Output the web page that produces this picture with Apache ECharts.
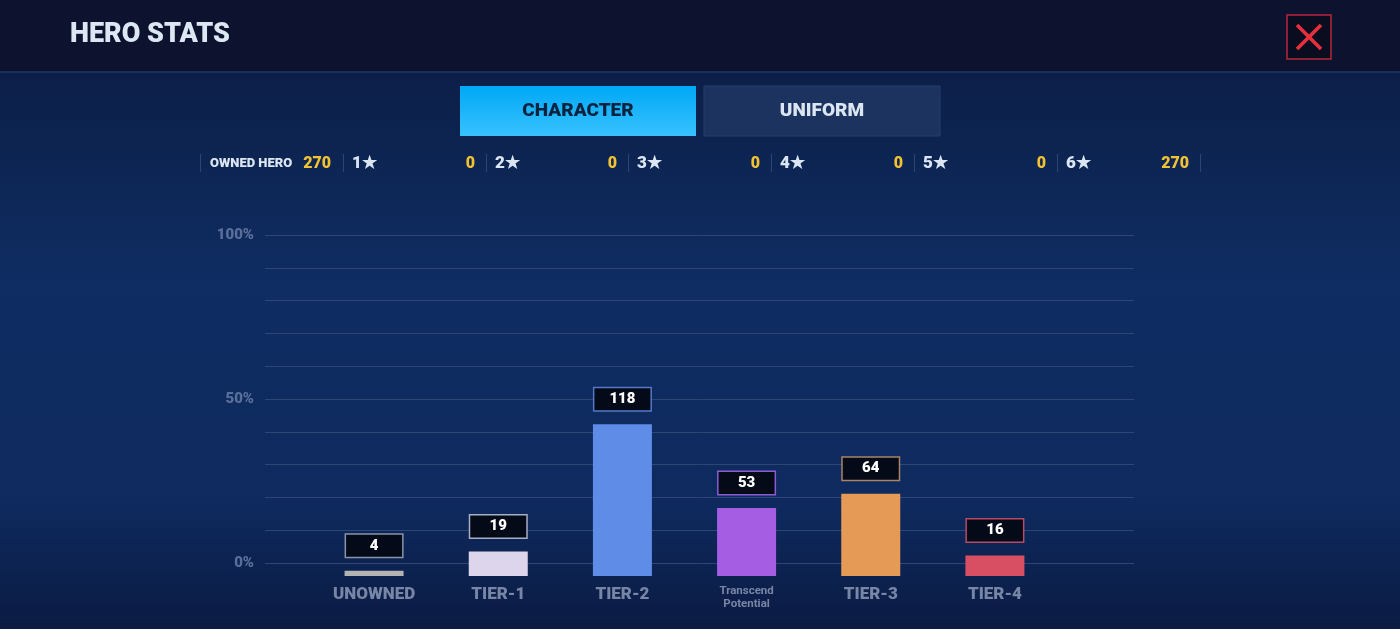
<!DOCTYPE html>
<html>
<head>
<meta charset="utf-8">
<title>Hero Stats</title>
<script src="https://cdn.jsdelivr.net/npm/echarts@6/dist/echarts.min.js"></script>
<style>
  html, body { margin: 0; padding: 0; background: #0d1a40; }
  #chart { width: 1400px; height: 629px; }
</style>
</head>
<body>
<div id="chart"></div>
<script>
// 图表数据
const categories = ["UNOWNED", "TIER-1", "TIER-2", "Transcend\nPotential", "TIER-3", "TIER-4"];
const heroCounts = [4, 19, 118, 53, 64, 16];
const totalOwned = 270;
const percentTicks = [0, 50, 100];
const starLabels = ["1★", "2★", "3★", "4★", "5★", "6★"];
const starCounts = [0, 0, 0, 0, 0, 270];

// 颜色
const barColors = ["#b3b3b3", "#dcd5ec", "#5f8ce6", "#a55de4", "#e59b55", "#d84f63"];
const boxColors = ["#8a93ad", "#a9adc4", "#5578c8", "#8c5cd0", "#a88468", "#b84a68"];
const FONT = 'Roboto, "Noto Sans", sans-serif';

const chart = echarts.init(document.getElementById("chart"));

// 顶部统计栏
const statGraphics = [];
const sepX = [200, 343, 486, 628, 771, 914, 1057, 1200];
sepX.forEach(x => {
  statGraphics.push({
    type: "rect",
    shape: { x: x, y: 154, width: 1, height: 18 },
    style: { fill: "#2f4470" }
  });
});
statGraphics.push({
  type: "text", x: 210, y: 164,
  style: { text: "OWNED HERO", fill: "#dce6f2", font: "900 13px " + FONT, verticalAlign: "middle" }
});
statGraphics.push({
  type: "text", x: 331, y: 164,
  style: { text: String(totalOwned), fill: "#f2c232", font: "900 16px " + FONT, align: "right", verticalAlign: "middle" }
});
starLabels.forEach((s, i) => {
  statGraphics.push({
    type: "text", x: sepX[i + 1] + 9, y: 164,
    style: { text: s, fill: "#dce6f2", font: "900 17px " + FONT, verticalAlign: "middle" }
  });
  statGraphics.push({
    type: "text", x: sepX[i + 2] - 11, y: 164,
    style: { text: String(starCounts[i]), fill: "#f2c232", font: "900 16px " + FONT, align: "right", verticalAlign: "middle" }
  });
});

const option = {
  animation: false,
  backgroundColor: {
    type: "linear", x: 0, y: 0, x2: 0, y2: 1,
    colorStops: [
      { offset: 0, color: "#0a1a3f" },
      { offset: 0.45, color: "#0f2d62" },
      { offset: 0.8, color: "#0e2a5e" },
      { offset: 1, color: "#0b1b43" }
    ]
  },
  textStyle: { fontFamily: FONT },
  graphic: [
    // 标题栏
    { type: "rect", shape: { x: 0, y: 0, width: 1400, height: 71 }, style: { fill: "#0d132e" } },
    { type: "rect", shape: { x: 0, y: 71, width: 1400, height: 2 }, style: { fill: "#1a2f5d" } },
    {
      type: "text", x: 70, y: 35,
      style: { text: "HERO STATS", fill: "#dbe7f2", font: "900 27px " + FONT, verticalAlign: "middle" }
    },
    // 关闭按钮
    {
      type: "rect", shape: { x: 1287, y: 15, width: 44, height: 44 },
      style: { fill: "#0a0d20", stroke: "#b8263a", lineWidth: 1.5 }
    },
    { type: "line", shape: { x1: 1297, y1: 25, x2: 1321, y2: 49 }, style: { stroke: "#e8303c", lineWidth: 3.5 } },
    { type: "line", shape: { x1: 1321, y1: 25, x2: 1297, y2: 49 }, style: { stroke: "#e8303c", lineWidth: 3.5 } },
    // 标签页
    {
      type: "rect", shape: { x: 460, y: 86, width: 236, height: 50 },
      style: {
        fill: {
          type: "linear", x: 0, y: 0, x2: 0, y2: 1,
          colorStops: [{ offset: 0, color: "#00a8f5" }, { offset: 1, color: "#38c2ff" }]
        }
      }
    },
    {
      type: "text", x: 578, y: 111,
      style: { text: "CHARACTER", fill: "#0c2340", font: "900 19px " + FONT, align: "center", verticalAlign: "middle" }
    },
    {
      type: "rect", shape: { x: 704, y: 86, width: 236, height: 50 },
      style: { fill: "#1c325f", stroke: "#263f6e", lineWidth: 1 }
    },
    {
      type: "text", x: 822, y: 111,
      style: { text: "UNIFORM", fill: "#dce6f2", font: "900 19px " + FONT, align: "center", verticalAlign: "middle" }
    }
  ].concat(statGraphics),
  grid: [
    { left: 265, right: 266, top: 235, bottom: 66 },
    { left: 312, right: 343, top: 229, bottom: 53 }
  ],
  xAxis: [
    { gridIndex: 0, type: "value", show: false },
    {
      gridIndex: 1,
      type: "category",
      data: categories,
      axisLine: { show: false },
      axisTick: { show: false },
      axisLabel: {
        interval: 0,
        margin: 9,
        formatter: v => v.indexOf("\n") >= 0
          ? v.split("\n").map(s => "{s|" + s + "}").join("\n")
          : "{b|" + v + "}",
        rich: {
          b: { color: "#7886a6", fontSize: 17, fontWeight: 900, fontFamily: FONT, lineHeight: 20 },
          s: { color: "#7886a6", fontSize: 11.5, fontWeight: "bold", fontFamily: FONT, lineHeight: 13 }
        }
      }
    }
  ],
  yAxis: [
    {
      gridIndex: 0,
      type: "value",
      min: 0,
      max: 100,
      interval: 10,
      axisLine: { show: false },
      axisTick: { show: false },
      axisLabel: {
        customValues: percentTicks,
        margin: 11,
        color: "#5a6e9a",
        fontSize: 15,
        fontWeight: 900,
        fontFamily: FONT,
        formatter: v => v + "%"
      },
      splitLine: { show: true, lineStyle: { color: "#2c4675", width: 1 } }
    },
    {
      gridIndex: 1,
      type: "value",
      min: 0,
      max: totalOwned,
      show: false,
      splitLine: { show: false }
    }
  ],
  series: [
    {
      type: "bar",
      xAxisIndex: 1,
      yAxisIndex: 1,
      barWidth: 59,
      data: heroCounts.map((v, i) => ({
        value: v,
        itemStyle: { color: barColors[i] },
        label: { borderColor: boxColors[i] }
      })),
      label: {
        show: true,
        position: "top",
        distance: 14,
        formatter: "{c}",
        color: "#ffffff",
        fontSize: 15,
        fontWeight: 900,
        fontFamily: FONT,
        backgroundColor: "#050a18",
        borderWidth: 1.5,
        width: 56,
        height: 18,
        lineHeight: 18,
        align: "center",
        padding: [2, 0]
      }
    }
  ]
};

chart.setOption(option);
</script>
</body>
</html>
